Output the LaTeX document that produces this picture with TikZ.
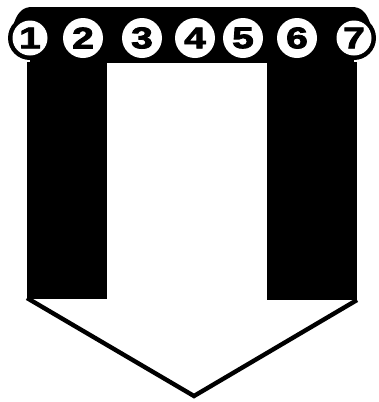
\documentclass[tikz,border=0pt]{standalone}
\usepackage{fontspec}
\newfontfamily\digitfont[BoldFeatures={FakeBold=2.5}]{Liberation Sans}
\newcommand\dignum[1]{\scalebox{1.3}[1]{#1}}
\begin{document}
\begin{tikzpicture}[x=1pt,y=-1pt,
  blk/.style={fill=black,draw=none},
  digit/.style={circle,fill=white,inner sep=0pt,minimum size=40pt,
    font=\digitfont\bfseries\fontsize{30}{30}\selectfont},
  enddigit/.style={digit,minimum size=35pt},
  chevron/.style={draw=black,line width=4.4pt,line join=miter}]
\useasboundingbox (0,0) rectangle (378,402);
% top bar with rounded ends
\fill[blk] (30,7) rectangle (354,63);
\fill[blk] (30,38) circle (22);
\fill[blk] (354,38) circle (22);
\fill[blk] (14,23) .. controls (18,11) and (24,7) .. (32,7) -- (32,38) -- cycle;
\fill[blk] (370,23) .. controls (366,11) and (360,7) .. (352,7) -- (352,38) -- cycle;
% columns
\fill[blk] (27,62) rectangle (107,299);
\fill[blk] (267,62) rectangle (357,300);
% numbered circles
\node[enddigit] (c1) at (30,38) {\dignum{1}};
\node[digit] (c2) at (83,38) {\dignum{2}};
\node[digit] (c3) at (142,38) {\dignum{3}};
\node[digit] (c4) at (195,38) {\dignum{4}};
\node[digit] (c5) at (243,38) {\dignum{5}};
\node[digit] (c6) at (297,38) {\dignum{6}};
\node[enddigit] (c7) at (354,38) {\dignum{7}};
% arrow head
\coordinate (hl) at (27,298);
\coordinate (tip) at (194,396);
\coordinate (hr) at (357,300);
\draw[chevron] (hl) -- (tip) -- (hr);
\end{tikzpicture}
\end{document}
